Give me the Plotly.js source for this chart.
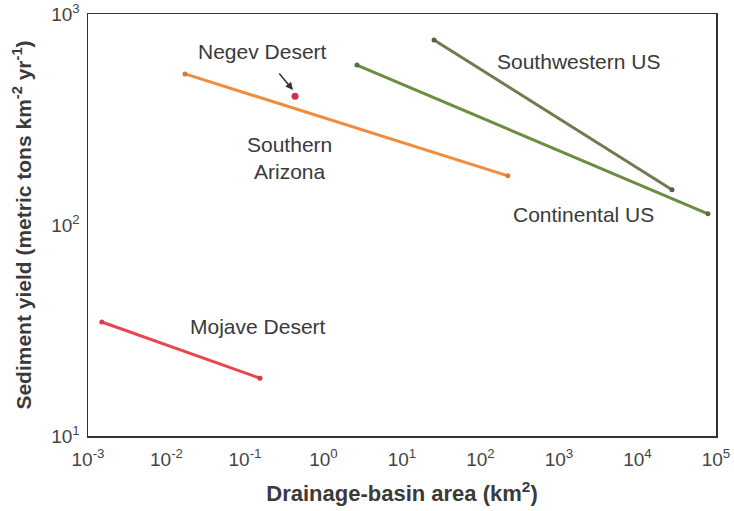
<!DOCTYPE html>
<html><head><meta charset="utf-8">
<script src="https://cdn.plot.ly/plotly-3.0.1.min.js"></script>
<style>html,body{margin:0;padding:0;background:#fff;}#chart{width:734px;height:511px;}</style>
</head><body><div id="chart"></div>
<script>
// Data (drainage area km^2, sediment yield t km^-2 yr^-1)
const mojaveX = [0.0015, 0.155];
const mojaveY = [34.7, 18.8];
const arizonaX = [0.0172, 224];
const arizonaY = [520, 171];
const continentalX = [2.67, 79000];
const continentalY = [573, 113];
const southwestX = [25.6, 27500];
const southwestY = [753, 147];
const negevX = [0.434];
const negevY = [408];
const xTickVals = [1e-3, 1e-2, 1e-1, 1, 10, 100, 1e3, 1e4, 1e5];
const xTickText = ["10<sup>-3</sup>","10<sup>-2</sup>","10<sup>-1</sup>","10<sup>0</sup>","10<sup>1</sup>","10<sup>2</sup>","10<sup>3</sup>","10<sup>4</sup>","10<sup>5</sup>"];
const yTickVals = [10, 100, 1000];
const yTickText = ["10<sup>1</sup>","10<sup>2</sup>","10<sup>3</sup>"];

function line(x, y, color, mcolor) {
  return {x: x, y: y, type: 'scatter', mode: 'lines+markers',
    line: {color: color, width: 3}, marker: {color: mcolor, size: 5},
    hoverinfo: 'skip', showlegend: false};
}
const traces = [
  line(mojaveX, mojaveY, '#e8464f', '#d83a48'),
  line(arizonaX, arizonaY, '#f08c3c', '#e07a30'),
  line(continentalX, continentalY, '#6a8d3e', '#5a6e40'),
  line(southwestX, southwestY, '#6f7c4c', '#5a5f4a'),
  {x: negevX, y: negevY, type: 'scatter', mode: 'markers',
   marker: {color: '#d3304f', size: 7}, showlegend: false, hoverinfo: 'skip'}
];
const FAM = 'Liberation Sans, Arial, sans-serif';
const af = {family: FAM, size: 21, color: '#3a3a3a'};
const tf = {family: FAM, size: 19, color: '#444'};
const layout = {
  width: 734, height: 511,
  margin: {l: 88, r: 18, t: 14, b: 75},
  paper_bgcolor: '#fff', plot_bgcolor: '#fff',
  font: tf,
  xaxis: {type: 'log', range: [-3, 5], tickvals: xTickVals, ticktext: xTickText,
    showgrid: false, zeroline: false, showline: true, mirror: true,
    linecolor: '#333', linewidth: 1.5, ticks: '', tickfont: tf, ticklabelstandoff: 6,
    title: {text: '<b>Drainage-basin area (km<sup>2</sup>)</b>', font: {family: FAM, size: 22, color: '#3a3a3a'}, standoff: 16}},
  yaxis: {type: 'log', range: [1, 3], tickvals: yTickVals, ticktext: yTickText,
    showgrid: false, zeroline: false, showline: true, mirror: true,
    linecolor: '#333', linewidth: 1.5, ticks: '', tickfont: tf, ticklabelstandoff: 3,
    title: {text: '<b>Sediment yield (metric tons km<sup>-2</sup> yr<sup>-1</sup>)</b>', font: {family: FAM, size: 21, color: '#3a3a3a'}, standoff: 14}},
  annotations: [
    {x: -0.783, y: 2.820, xref: 'x', yref: 'y', text: 'Negev Desert', showarrow: false, font: af},
    {x: -0.389, y: 2.640, xref: 'x', yref: 'y', ax: -15, ay: -18, text: '', showarrow: true, arrowhead: 2, arrowsize: 1, arrowwidth: 1.5, arrowcolor: '#333', standoff: 0},
    {x: -0.439, y: 2.318, xref: 'x', yref: 'y', text: 'Southern<br>Arizona', showarrow: false, font: af},
    {x: 3.242, y: 2.773, xref: 'x', yref: 'y', text: 'Southwestern US', showarrow: false, font: af},
    {x: 3.318, y: 2.052, xref: 'x', yref: 'y', text: 'Continental US', showarrow: false, font: af},
    {x: -0.834, y: 1.517, xref: 'x', yref: 'y', text: 'Mojave Desert', showarrow: false, font: af}
  ]
};
Plotly.newPlot('chart', traces, layout, {displayModeBar: false, staticPlot: true});
</script></body></html>
